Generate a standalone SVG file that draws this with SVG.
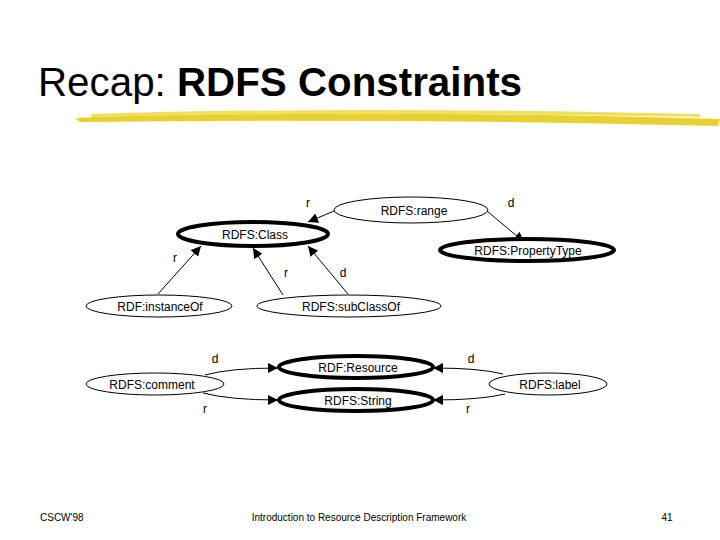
<svg xmlns="http://www.w3.org/2000/svg" width="720" height="540" viewBox="0 0 720 540">
<defs>
<style>
.n{fill:#fff;stroke:#000;stroke-width:1}
.k{fill:#fff;stroke:#000;stroke-width:4}
.t{font-family:"Liberation Sans",Arial,sans-serif;font-size:12px;fill:#000;text-anchor:middle}
.e{fill:none;stroke:#000;stroke-width:1;marker-end:url(#a)}
.f{font-family:"Liberation Sans",Arial,sans-serif;font-size:10px;fill:#000}
</style>
<marker id="a" viewBox="0 0 10 10" refX="10" refY="5" markerWidth="10" markerHeight="10" markerUnits="userSpaceOnUse" orient="auto"><path d="M0,0L10,5L0,10z"/></marker>
</defs>
<rect width="720" height="540" fill="#fff"/>
<text x="38" y="96" font-family="Liberation Sans,Arial,sans-serif" font-size="40" fill="#000" textLength="484" lengthAdjust="spacingAndGlyphs">Recap: <tspan font-weight="bold">RDFS Constraints</tspan></text>
<path d="M75,118 Q300,108 720,119 L718,126 Q400,118 80,122 Z" fill="#e8d030"/>
<path d="M90,114 Q350,106 700,114 L700,117 Q350,111 92,117 Z" fill="#f0e060"/>
<g id="connectors">
<path class="e" d="M334,211 L308,222"/>
<path class="e" d="M487,211 L524,242"/>
<path class="e" d="M158,294 L201,246"/>
<path class="e" d="M283,295 L253,248"/>
<path class="e" d="M348,294 L308,246"/>
<path class="e" d="M205,375 Q230,368 278,368"/>
<path class="e" d="M203,393 Q230,400 278,400"/>
<path class="e" d="M503,374 Q480,368 433,368"/>
<path class="e" d="M505,394 Q480,400 433,400"/>
<g class="t">
<text x="308" y="207">r</text><text x="511" y="207">d</text>
<text x="175" y="262">r</text><text x="286" y="277">r</text><text x="343" y="277">d</text>
<text x="215" y="363">d</text><text x="205" y="413">r</text>
<text x="471" y="363">d</text><text x="468" y="413">r</text>
</g>
</g>
<g id="range"><ellipse class="n" cx="411" cy="210" rx="77" ry="13"/><text class="t" x="414" y="215">RDFS:range</text></g>
<g id="class"><ellipse class="k" cx="253" cy="234" rx="75" ry="12"/><text class="t" x="255" y="239">RDFS:Class</text></g>
<g id="propertytype"><ellipse class="k" cx="527" cy="250" rx="87" ry="11"/><text class="t" x="528" y="255">RDFS:PropertyType</text></g>
<g id="instanceof"><ellipse class="n" cx="159" cy="306" rx="73" ry="11"/><text class="t" x="160" y="311">RDF:instanceOf</text></g>
<g id="subclassof"><ellipse class="n" cx="349" cy="306" rx="92" ry="11"/><text class="t" x="351" y="311">RDFS:subClassOf</text></g>
<g id="resource"><ellipse class="k" cx="356" cy="367" rx="77" ry="11"/><text class="t" x="358" y="372">RDF:Resource</text></g>
<g id="string"><ellipse class="k" cx="356" cy="400" rx="77" ry="11"/><text class="t" x="358" y="405">RDFS:String</text></g>
<g id="comment"><ellipse class="n" cx="155" cy="384" rx="69" ry="11"/><text class="t" x="152" y="389">RDFS:comment</text></g>
<g id="label"><ellipse class="n" cx="548" cy="384" rx="59" ry="11"/><text class="t" x="550" y="389">RDFS:label</text></g>
<text class="f" x="40" y="521">CSCW'98</text>
<text class="f" x="359" y="521" text-anchor="middle">Introduction to Resource Description Framework</text>
<text class="f" x="667" y="521" text-anchor="middle">41</text>
</svg>
